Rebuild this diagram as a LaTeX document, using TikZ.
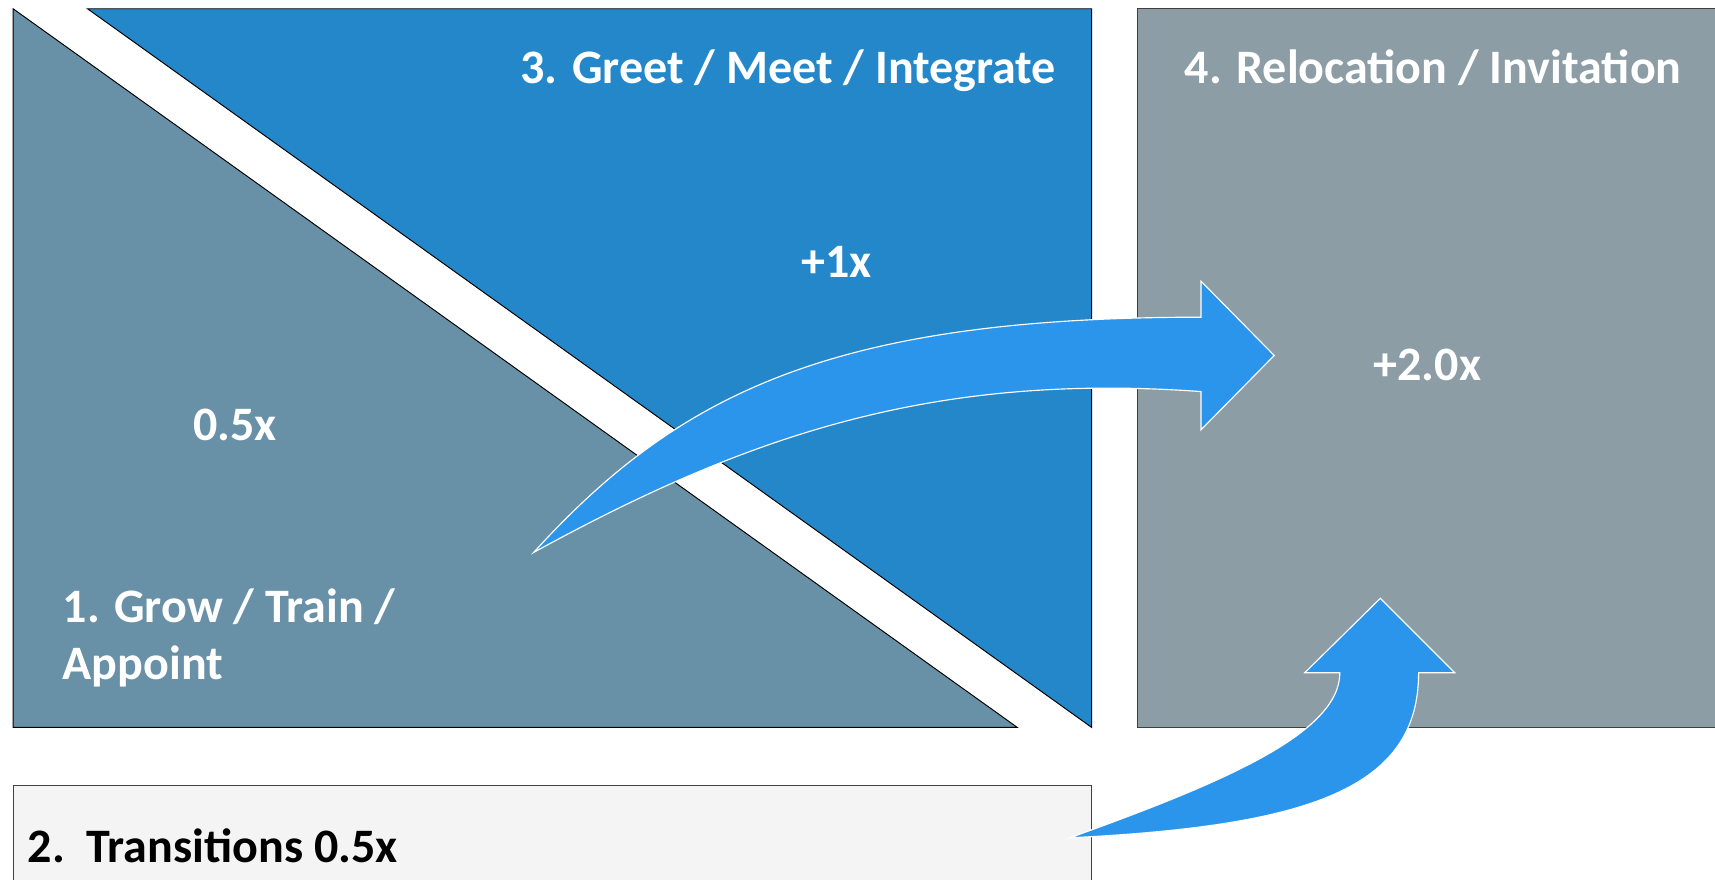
\documentclass[tikz,border=0pt]{standalone}
\usepackage{fontspec}
\setmainfont{Carlito}
\usepackage{tikz}

\definecolor{slate}{HTML}{6891A7}
\definecolor{deepblue}{HTML}{2387C9}
\definecolor{greybox}{HTML}{8C9DA6}
\definecolor{arrowblue}{HTML}{2B95EB}
\definecolor{paper}{HTML}{F4F4F4}

\begin{document}
\begin{tikzpicture}[x=0.02cm,y=-0.02cm,
  lbl/.style={text=white,inner sep=0pt,font=\fontsize{25}{29.5}\selectfont\bfseries},
  panel/.style={draw=black,line width=0.5pt},
  bigarrow/.style={fill=arrowblue,draw=white,line width=0.6pt}]
\useasboundingbox (0,0) rectangle (1568,804.5);
% the three panels
\draw[panel,fill=slate] (12,8) -- (12,665) -- (930,665) -- cycle;
\draw[panel,fill=deepblue] (80,8) -- (998,8) -- (998,665) -- cycle;
\draw[panel,draw=black!75,fill=greybox] (1040,8) rectangle (1600,665);
\draw[panel,draw=black!75,fill=paper] (12,718) rectangle (998,830);
\node[lbl,anchor=base east] (greet) at (966,76) {3. Greet / Meet / Integrate};
\node[lbl,anchor=base west] (reloc) at (1083,76) {4. Relocation / Invitation};
\node[lbl,anchor=base] (one) at (765,254) {+1x};
\node[lbl,anchor=base] (two) at (1305,348) {+2.0x};
\node[lbl,anchor=base] (half) at (215,403) {0.5x};
\node[lbl,anchor=north west,align=left] (grow) at (57,538) {1. Grow / Train /\\Appoint};
\node[lbl,text=black,anchor=base west] (trans) at (25,789) {2.\ \ Transitions 0.5x};
% curved block arrows
\draw[bigarrow] (488,505) .. controls (620,360) and (760,290) .. (1098,290)
  -- (1098,257) -- (1165,325) -- (1098,393) -- (1098,358)
  .. controls (850,340) and (680,400) .. (488,505) -- cycle;
\draw[bigarrow] (978,766) .. controls (1120,715) and (1225,670) .. (1225,615)
  -- (1193,615) -- (1262,547) -- (1330,615) -- (1297,615)
  .. controls (1297,720) and (1200,755) .. (978,766) -- cycle;
\end{tikzpicture}
\end{document}
